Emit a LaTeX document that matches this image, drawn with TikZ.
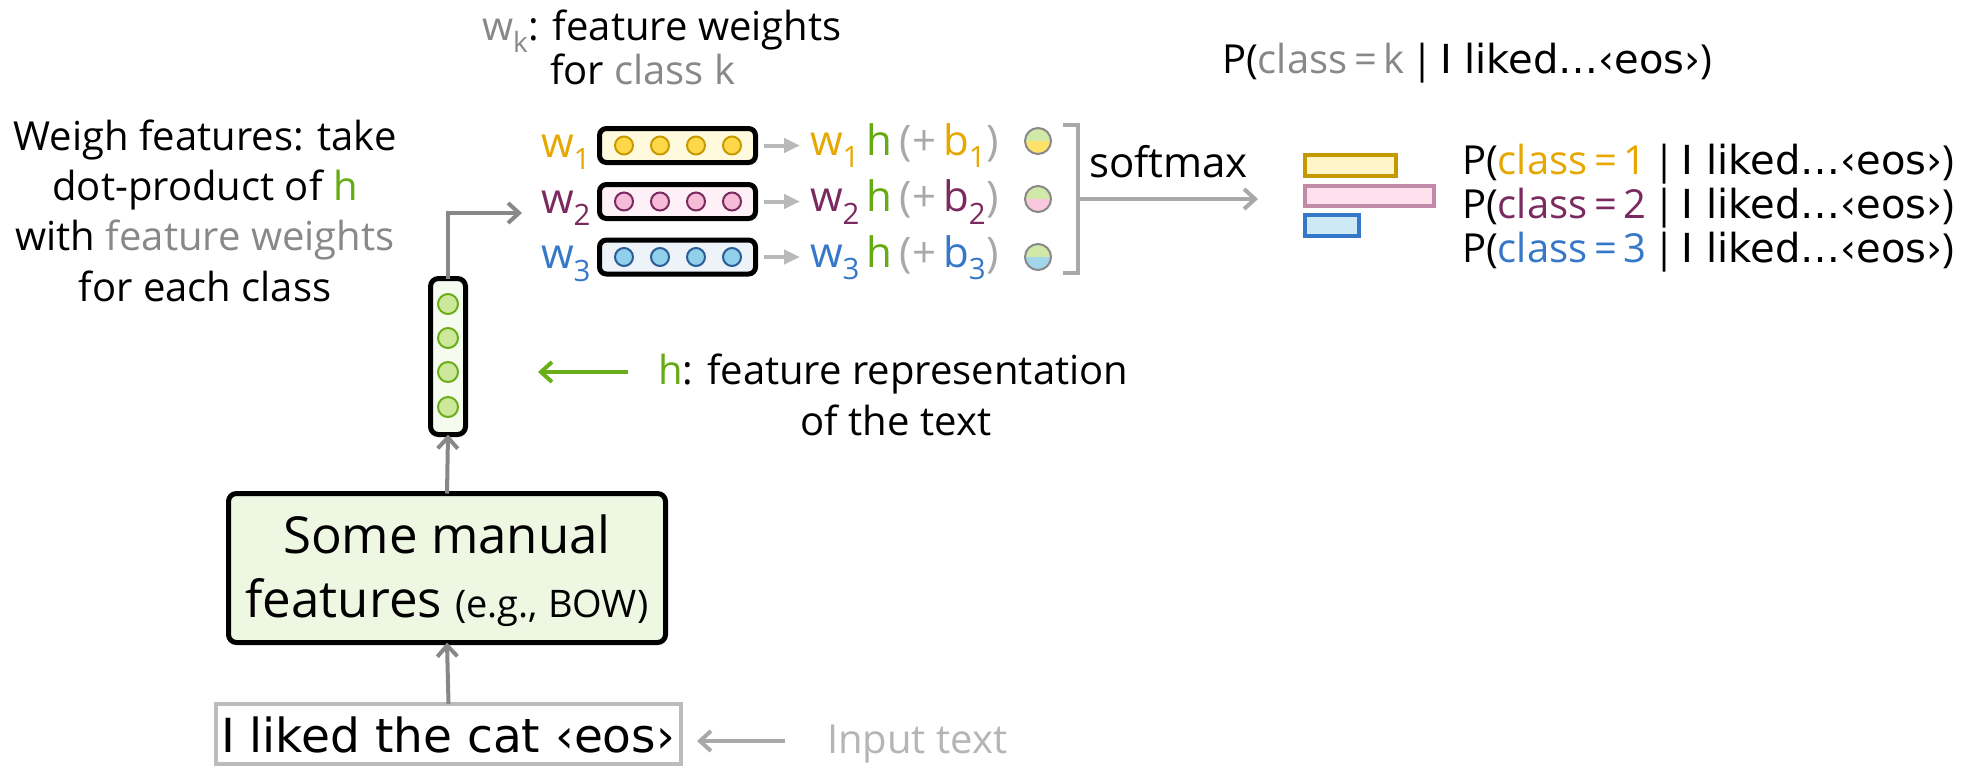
\documentclass[tikz,border=0pt]{standalone}
\usepackage{fontspec}
\setmainfont{Open Sans}
\newfontfamily\comic{DejaVu Sans}
\usetikzlibrary{arrows.meta}
\definecolor{cy}{HTML}{E6A800}
\definecolor{cp}{HTML}{7A2A5E}
\definecolor{cb}{HTML}{3577C8}
\definecolor{cg}{HTML}{66AA14}
\definecolor{gr}{HTML}{888888}
\definecolor{lgr}{HTML}{A8A8A8}
\definecolor{ygr}{HTML}{B5B5B5}
\definecolor{yboxf}{HTML}{FFF9DD}
\definecolor{ycirc}{HTML}{FFD84A}
\definecolor{ystr}{HTML}{C79A00}
\definecolor{pboxf}{HTML}{FDF0F6}
\definecolor{pcirc}{HTML}{F6BBD6}
\definecolor{pstr}{HTML}{7A2A5E}
\definecolor{bboxf}{HTML}{EEF3FA}
\definecolor{bcirc}{HTML}{90D0EA}
\definecolor{bstr}{HTML}{2A5C96}
\definecolor{hboxf}{HTML}{F6FBEF}
\definecolor{hcirc}{HTML}{CDE89A}
\definecolor{hstr}{HTML}{6AAE1A}
\definecolor{manf}{HTML}{EDF7E2}
\definecolor{barYf}{HTML}{FFF5C6}
\definecolor{barYs}{HTML}{C49A00}
\definecolor{barPf}{HTML}{FFE1EE}
\definecolor{barPs}{HTML}{C08AA8}
\definecolor{barBf}{HTML}{CCE9F5}
\definecolor{barBs}{HTML}{3577C8}
\definecolor{halfg}{HTML}{D0E9A8}
\definecolor{halfy}{HTML}{FFE26A}
\definecolor{halfp}{HTML}{F9C8DE}
\definecolor{halfb}{HTML}{A2D6EA}
\begin{document}
\begin{tikzpicture}[x=1pt,y=-1pt]
\tikzset{
  lbl/.style={inner sep=0pt, outer sep=0pt, anchor=base},
  f40/.style={font=\fontsize{40}{46}\selectfont},
  f42/.style={font=\fontsize{42}{48}\selectfont},
  wbox/.style={draw=black, line width=5pt, rounded corners=7pt, minimum width=156pt, minimum height=34pt, inner sep=0pt, outer sep=0pt},
  vcirc/.style={circle, line width=2pt, minimum size=18pt, inner sep=0pt},
  garr/.style={draw=gr, line width=4pt, -{Straight Barb[length=11pt,width=20pt,line width=4pt]}},
  larr/.style={draw=lgr, line width=4pt, -{Straight Barb[length=11pt,width=20pt,line width=4pt]}},
  grnarr/.style={draw=hstr, line width=4pt, -{Straight Barb[length=11pt,width=20pt,line width=4pt]}},
  sarr/.style={draw=lgr!80, line width=4pt, -{Triangle[length=16pt,width=14pt]}},
}
\useasboundingbox (0,0) rectangle (1964,782);

% left explanation
\node[lbl,f40] (l1) at (205,150) {Weigh features: take};
\node[lbl,f40] (l2) at (205,200) {dot-product of \textcolor{cg}{h}};
\node[lbl,f40] (l3) at (205,250) {with \textcolor{gr}{feature weights}};
\node[lbl,f40] (l4) at (205,301) {for each class};

% title
\node[lbl,anchor=base west,f40] (t1) at (482,40) {\textcolor{gr}{w\textsubscript{k}}: feature weights};
\node[lbl,anchor=base west,f40] (t2) at (550,84) {for \textcolor{gr}{class k}};

% weight vectors
\foreach \i/\y/\fc/\cc/\sc/\tc in {1/145.5/yboxf/ycirc/ystr/cy, 2/201.5/pboxf/pcirc/pstr/cp, 3/257/bboxf/bcirc/bstr/cb}{
  \node[wbox, fill=\fc] (wb\i) at (677.5,\y) {};
  \foreach \x [count=\j] in {624,660,696,732}{
    \node[vcirc, fill=\cc, draw=\sc] (c\i\j) at (\x,\y) {};
  }
  \node[lbl,anchor=base east,f42,text=\tc] (wl\i) at (591,\y+11.5) {w\textsubscript{\i}};
  \node[lbl,anchor=base west,f42] (e\i) at (810,\y+10) {\textcolor{\tc}{w\textsubscript{\i}}\,\textcolor{cg}{h}\,\textcolor{lgr}{(+\,\textcolor{\tc}{b\textsubscript{\i}})}};
  \draw[sarr] ([xshift=8.5pt]wb\i.east) -- ([xshift=-10pt]e\i.west |- wb\i.east);
}

% scores (half circles)
\foreach \y/\hc [count=\k] in {141/halfy, 199/halfp, 257/halfb}{
  \fill[halfg] (1051,\y) arc[start angle=0, end angle=-180, radius=13] -- cycle;
  \fill[\hc] (1025,\y) arc[start angle=180, end angle=0, radius=13] -- cycle;
  \draw[gr, line width=2pt] (1038,\y) circle[radius=13];
}

% bracket and softmax
\draw[lgr, line width=4pt] (1063,125) -- (1078,125) -- (1078,273) -- (1063,273);
\node[lbl,anchor=base west,f42] (sm) at (1089,177) {softmax};
\coordinate (br) at (1078,199);
\coordinate (smtip) at (1258,199);
\draw[larr] (br) -- (smtip);

% probability bars
\draw[draw=barYs, fill=barYf, line width=4pt] (1305,155) rectangle (1396,176);
\draw[draw=barPs, fill=barPf, line width=4pt] (1305,186) rectangle (1434,206);
\draw[draw=barBs, fill=barBf, line width=4pt] (1305,215) rectangle (1359,236);

% probability labels
\node[lbl,anchor=base west,f40] (pk) at (1222,73) {P(\textcolor{gr}{class\,=\,k}\,|\,{\comic I liked…‹eos›})};
\node[lbl,anchor=base west,f40] (p1) at (1462,174) {P(\textcolor{cy}{class\,=\,1}\,|\,{\comic I liked…‹eos›})};
\node[lbl,anchor=base west,f40] (p2) at (1462,218) {P(\textcolor{cp}{class\,=\,2}\,|\,{\comic I liked…‹eos›})};
\node[lbl,anchor=base west,f40] (p3) at (1462,262) {P(\textcolor{cb}{class\,=\,3}\,|\,{\comic I liked…‹eos›})};

% h vector
\node[draw=black, fill=hboxf, line width=5pt, rounded corners=8pt, minimum width=35pt, minimum height=156pt, inner sep=0pt, outer sep=0pt] (hbox) at (448,356.5) {};
\foreach \y [count=\j] in {304,338,372,407}{
  \node[vcirc, minimum size=20pt, fill=hcirc, draw=hstr] (hc\j) at (448,\y) {};
}
\coordinate (wtip) at (522,213);
\draw[garr] (hbox.north) |- (wtip);

% h label
\node[lbl,anchor=base west,f40] (hl1) at (658,384) {\textcolor{cg}{h}: feature representation};
\node[lbl,f40] (hl2) at (896,435) {of the text};
\coordinate (gstart) at (628,372);
\coordinate (gtip) at (538,372);
\draw[grnarr] (gstart) -- (gtip);

% manual features box
\node[draw=black, fill=manf, line width=5pt, rounded corners=8pt, minimum width=437pt, minimum height=149pt, inner sep=0pt, outer sep=0pt] (manual) at (447,568) {};
\node[lbl,font=\fontsize{51}{56}\selectfont] (m1) at (447,553) {Some manual};
\node[lbl,font=\fontsize{51}{56}\selectfont] (m2) at (447,617) {features {\fontsize{38}{40}\selectfont (e.g., BOW)}};
\draw[garr] (manual.north) -- (hbox.south);

% input box
\node[draw=ygr!90, line width=4pt, minimum width=465pt, minimum height=60pt, inner sep=0pt, outer sep=0pt] (inbox) at (448.5,734) {};
\node[lbl,font=\comic\fontsize{47}{52}\selectfont] (intext) at (448,752) {I liked the cat ‹eos›};
\draw[garr] (inbox.north) -- (manual.south);

% input label
\node[lbl,anchor=base west,f40,text=ygr] (inl) at (827,753) {Input text};
\coordinate (istart) at (785,741);
\coordinate (itip) at (697,741);
\draw[larr] (istart) -- (itip);
\end{tikzpicture}
\end{document}
